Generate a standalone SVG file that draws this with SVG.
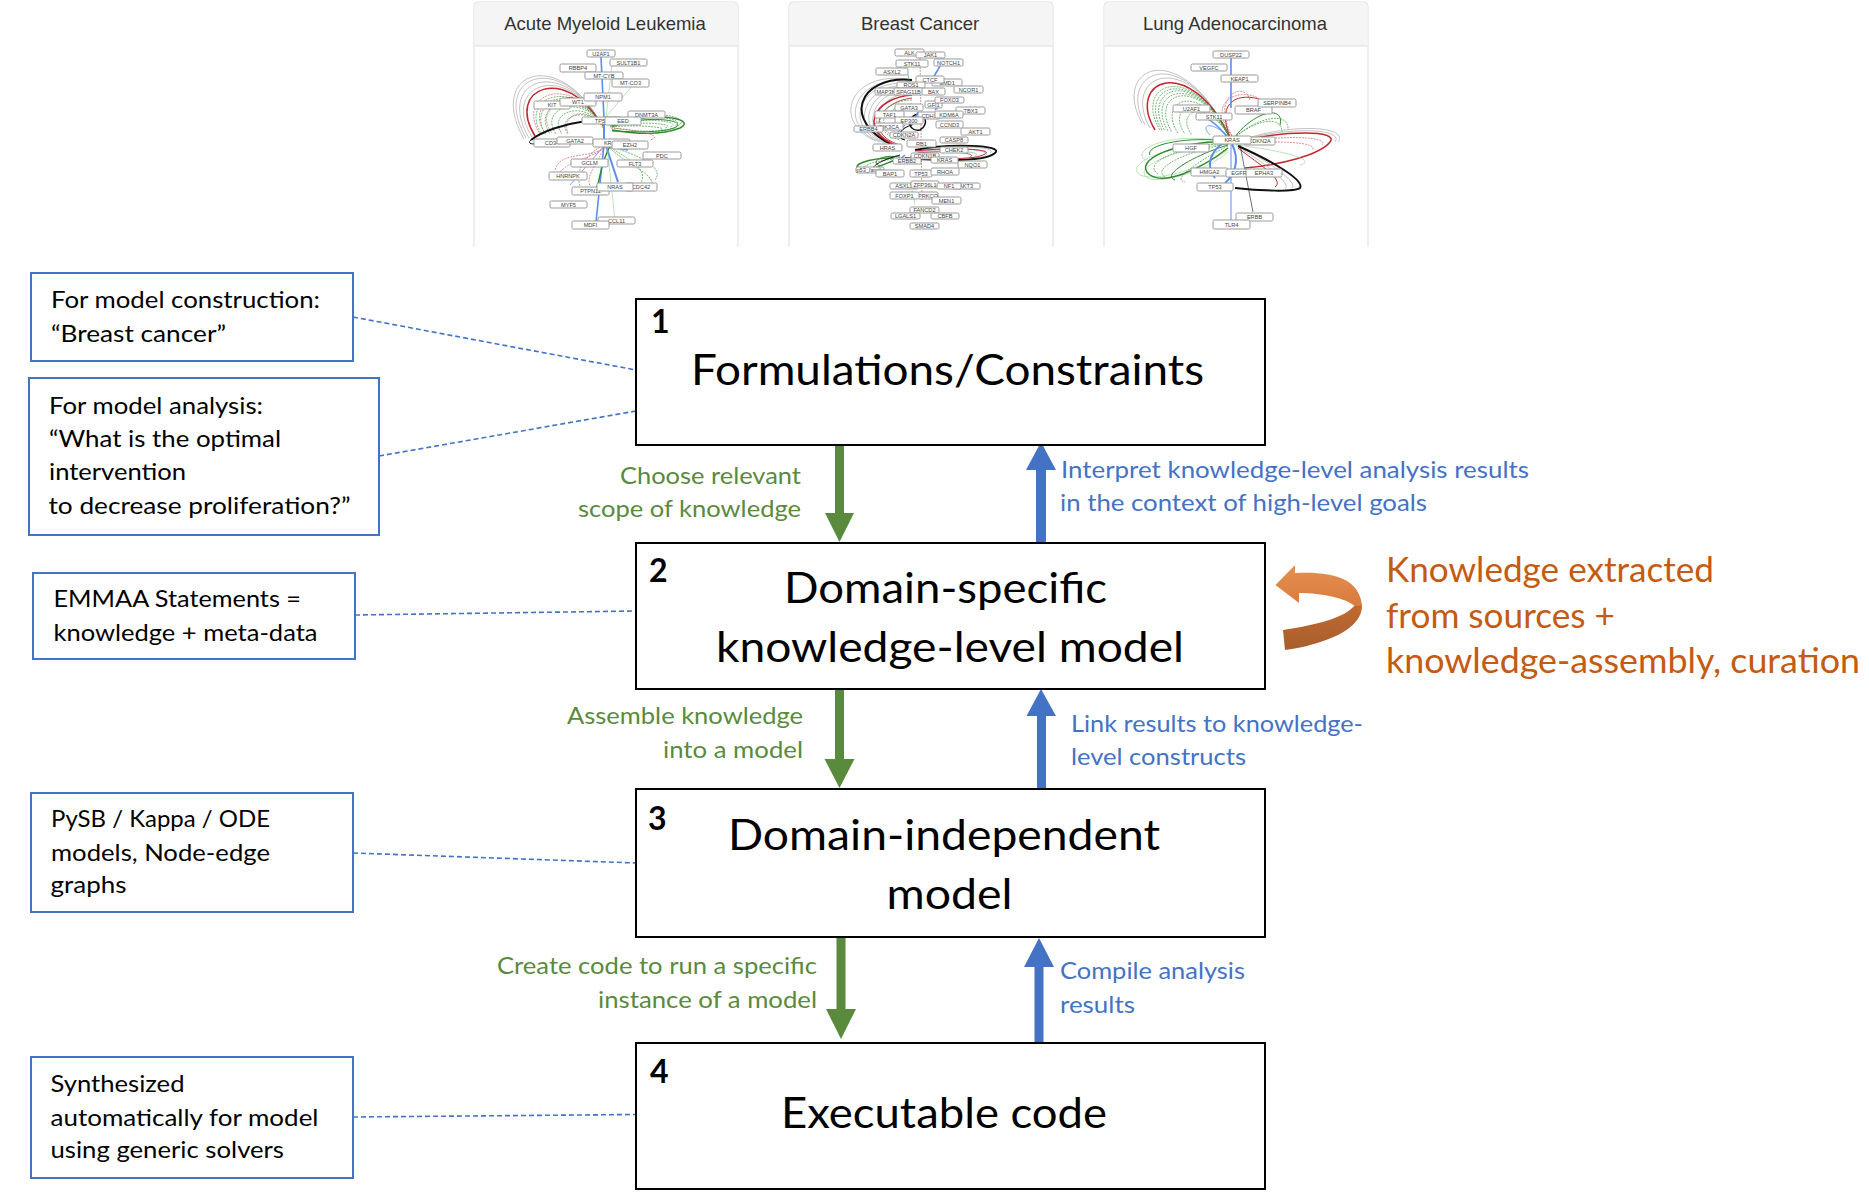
<svg xmlns="http://www.w3.org/2000/svg" width="1869" height="1203" viewBox="0 0 1869 1203">
<defs>
<style>
.t{font-family:Lato,"Open Sans","Liberation Sans",sans-serif}
.main{font-size:42px;fill:#000}
.num{font-size:32px;font-weight:bold;fill:#000}
.side{font-size:23.5px;fill:#000}
.gl{font-size:22.5px;fill:#5A8A3C}
.bl{font-size:22.5px;fill:#4472C4}
.ol{font-size:34.5px;fill:#C55A11}
.nb{fill:#fff;stroke:#000;stroke-width:2}
.sb{fill:#fff;stroke:#4472C4;stroke-width:2}
.dash{stroke:#4472C4;stroke-width:1.6;stroke-dasharray:5 3;fill:none}
.ga{fill:#5A8A3C}
.ba{fill:#4472C4}
.panel{fill:#fff;stroke:#ddd;stroke-width:1}
.phead{fill:#f5f5f5}
.ptitle{font-family:"Liberation Sans",Arial,sans-serif;font-size:18.5px;fill:#333;text-anchor:middle}
.nn rect{fill:#fff;stroke:#999;stroke-width:1}
.nn text{font-family:"Liberation Sans",Arial,sans-serif;font-size:5.6px;fill:#444;text-anchor:middle}
.e path{fill:none}
.gr{stroke:#a8a8a8;stroke-width:.7}
.rd{stroke:#c0282d;stroke-width:1.5}
.rt{stroke:#d0606a;stroke-width:.7;stroke-dasharray:2 1}
.gn{stroke:#3c9a3c;stroke-width:.7;stroke-dasharray:2 1}
.gs{stroke:#2f8a2f;stroke-width:1.5}
.bk{stroke:#111;stroke-width:2}
.bu{stroke:#5b8def;stroke-width:1.6}
.lg{stroke:#8fcf8f;stroke-width:.6}
</style>
<linearGradient id="og1" x1="0" y1="0" x2="0" y2="1"><stop offset="0" stop-color="#E48F52"/><stop offset="1" stop-color="#D97B3C"/></linearGradient>
<linearGradient id="og2" x1="0" y1="0" x2="0" y2="1"><stop offset="0" stop-color="#C06A32"/><stop offset="1" stop-color="#A95E2C"/></linearGradient>
</defs>
<rect width="1869" height="1203" fill="#fff"/>

<!-- Panel 1: AML -->
<g id="panel-aml">
<path class="panel" d="M474,247 V6 Q474,2 478,2 H734 Q738,2 738,6 V247"/>
<path class="phead" d="M474.5,46 V6 Q474.5,2.5 478,2.5 H734 Q737.5,2.5 737.5,6 V46 Z"/>
<line x1="474.5" y1="46" x2="737.5" y2="46" stroke="#ddd"/>
<text class="ptitle" x="605" y="30">Acute Myeloid Leukemia</text>
<g class="e">
<path class="gr" d="M600,122 C558,46 486,72 524,139"/>
<path class="gr" d="M600,122 C560,50 490,75 526,138"/>
<path class="gr" d="M600,122 C562,55 495,80 529,138"/>
<path class="gr" d="M600,122 C565,60 500,85 532,137"/>
<path class="rd" d="M600,123 C566,64 505,88 535,136"/>
<path class="rt" d="M601,124 C570,72 515,95 540,134"/>
<path class="rt" d="M602,125 C575,80 522,100 545,133"/>
<path class="rt" d="M603,126 C580,88 530,104 552,133"/>
<path class="gn" d="M602,124 C572,76 518,98 542,135"/>
<path class="gn" d="M603,125 C576,82 524,101 546,135"/>
<path class="gn" d="M603,126 C578,86 530,104 550,134"/>
<path class="gn" d="M604,127 C582,92 538,108 556,134"/>
<path class="gn" d="M604,128 C586,98 546,112 562,134"/>
<path class="gn" d="M605,129 C590,104 554,116 568,134"/>
<path class="rt" d="M603,128 C590,105 560,112 568,133"/>
<path class="rd" style="stroke-width:.9" d="M598,120 C585,96 560,92 565,104"/>
<path class="bk" d="M586,121 C565,124 542,131 531,140"/>
<path class="bk" style="stroke-width:1" d="M531,140 C526,144 534,146 546,141"/>
<path class="gn" d="M610,124 C640,108 695,115 678,126 C668,133 635,132 614,128"/>
<path class="gn" d="M610,125 C640,112 690,118 675,126"/>
<path class="gn" d="M610,126 C638,116 685,121 670,127"/>
<path class="gn" d="M610,127 C635,120 680,124 665,128"/>
<path class="gn" d="M612,127 C640,124 672,128 660,130"/>
<path class="gs" d="M612,126 C645,110 700,118 680,128 C660,136 635,134 612,130"/>
<path class="gs" style="stroke-width:1" d="M612,127 C642,114 692,120 674,128 C660,133 636,132 612,131"/>
<path class="rt" d="M611,128 C640,130 665,136 650,140"/>
<path class="lg" d="M606,118 L612,64"/>
<path class="lg" d="M605,118 L632,86"/>
<path class="bu" d="M601,57 L604,118"/>
<path class="bu" style="stroke-width:2" d="M604,122 L604,145"/>
<path class="bu" d="M604,145 L596,222"/>
<path class="bu" style="stroke-width:2" d="M606,146 L618,182"/>
<path class="bu" d="M607,146 L628,150"/>
<path class="bu" style="stroke-width:.8" d="M604,146 L570,185"/>
<path class="rt" d="M605,144 C585,155 575,170 580,186"/>
<path class="rt" d="M605,145 C600,160 585,175 590,186"/>
<path class="rt" d="M606,146 C595,158 570,160 560,172"/>
<path class="rt" d="M606,146 C592,160 560,150 555,170"/>
<path class="gn" d="M608,146 C630,160 650,170 640,184"/>
<path class="gn" d="M608,146 C625,165 660,175 650,187"/>
<path class="gn" d="M608,146 C640,155 665,168 655,180"/>
<path class="gs" d="M610,146 C600,165 600,180 597,187"/>
<path class="lg" d="M607,146 L615,220"/>
</g>
<g class="nn">
<rect x="587" y="50" width="28" height="7" rx="1.5"/><text x="601" y="55.5">U2AF1</text>
<rect x="610" y="59" width="37" height="7" rx="1.5"/><text x="628.5" y="64.5">SULT1B1</text>
<rect x="560" y="64" width="36" height="8" rx="1.5"/><text x="578" y="70">RBBP4</text>
<rect x="585" y="72" width="38" height="7" rx="1.5"/><text x="604" y="77.5">MT-CYB</text>
<rect x="612" y="79" width="37" height="8" rx="1.5"/><text x="630.5" y="85">MT-CO3</text>
<rect x="534" y="101" width="36" height="8" rx="1.5"/><text x="552" y="107">KIT</text>
<rect x="560" y="98" width="36" height="8" rx="1.5"/><text x="578" y="104">WT1</text>
<rect x="584" y="93" width="38" height="8" rx="1.5"/><text x="603" y="99">NPM1</text>
<rect x="628" y="111" width="37" height="7" rx="1.5"/><text x="646.5" y="116.5">DNMT3A</text>
<rect x="582" y="117" width="39" height="7" rx="1.5"/><text x="601.5" y="122.5">TP53</text>
<rect x="605" y="117" width="36" height="8" rx="1.5"/><text x="623" y="123">EED</text>
<rect x="534" y="139" width="36" height="8" rx="1.5"/><text x="552" y="145">CD34</text>
<rect x="557" y="137" width="36" height="7" rx="1.5"/><text x="575" y="142.5">GATA2</text>
<rect x="593" y="139" width="37" height="8" rx="1.5"/><text x="611.5" y="145">KRAS</text>
<rect x="612" y="141" width="36" height="8" rx="1.5"/><text x="630" y="147">EZH2</text>
<rect x="643" y="152" width="38" height="7" rx="1.5"/><text x="662" y="157.5">PDC</text>
<rect x="571" y="159" width="37" height="8" rx="1.5"/><text x="589.5" y="165">GCLM</text>
<rect x="617" y="160" width="36" height="7" rx="1.5"/><text x="635" y="165.5">FLT3</text>
<rect x="549" y="172" width="38" height="8" rx="1.5"/><text x="568" y="178">HNRNPK</text>
<rect x="572" y="187" width="37" height="8" rx="1.5"/><text x="590.5" y="193">PTPN11</text>
<rect x="625" y="183" width="32" height="8" rx="1.5"/><text x="641" y="189">CDC42</text>
<rect x="597" y="183" width="36" height="8" rx="1.5"/><text x="615" y="189">NRAS</text>
<rect x="550" y="201" width="37" height="7" rx="1.5"/><text x="568.5" y="206.5">MYF5</text>
<rect x="598" y="217" width="37" height="7" rx="1.5"/><text x="616.5" y="222.5">CCL11</text>
<rect x="572" y="221" width="37" height="8" rx="1.5"/><text x="590.5" y="227">MDFI</text>
</g>
</g>

<!-- Panel 2: Breast -->
<g id="panel-breast">
<path class="panel" d="M789,247 V6 Q789,2 793,2 H1049 Q1053,2 1053,6 V247"/>
<path class="phead" d="M789.5,46 V6 Q789.5,2.5 793,2.5 H1049 Q1052.5,2.5 1052.5,6 V46 Z"/>
<line x1="789.5" y1="46" x2="1052.5" y2="46" stroke="#ddd"/>
<text class="ptitle" x="920" y="30">Breast Cancer</text>
<g class="e">
<path class="gr" d="M912,80 C850,68 830,122 876,141"/>
<path class="gr" d="M912,82 C855,72 835,125 880,142"/>
<path class="gr" d="M912,84 C860,76 840,128 885,143"/>
<path class="gr" d="M912,86 C864,80 845,130 890,144"/>
<path class="gr" d="M912,88 C868,84 850,132 895,145"/>
<path class="gr" d="M912,90 C872,88 855,134 898,146"/>
<path class="gr" d="M912,93 C876,93 860,135 900,146"/>
<path class="bk" d="M912,80 C858,75 840,122 895,146"/>
<path class="rd" d="M912,95 C872,98 858,132 898,146"/>
<path class="rd" style="stroke-width:.9" d="M912,98 C878,102 864,134 900,145"/>
<path class="gn" d="M912,100 C880,100 865,130 900,140"/>
<path class="gn" d="M912,104 C884,106 870,130 900,138"/>
<path class="rt" d="M920,55 L922,200"/>
<path class="bk" style="stroke-width:1.5" d="M915,115 C925,110 930,125 920,130 C910,132 905,120 915,115"/>
<path class="bk" style="stroke-width:1.2" d="M912,125 C900,128 895,138 905,140"/>
<path class="gr" d="M915,151 C955,144 1000,147 990,153"/>
<path class="gr" d="M917,152 C950,149 985,152 975,156"/>
<path class="gr" d="M917,152 C955,146 995,150 985,156 C970,160 945,160 915,158"/>
<path class="bk" style="stroke-width:1.8" d="M915,150 C950,143 1005,145 995,153 C985,162 945,161 905,158"/>
<path class="rd" style="stroke-width:1" d="M915,151 C950,147 995,149 985,154 C975,160 945,159 910,157"/>
<path class="rd" style="stroke-width:.8" d="M918,153 C945,150 980,153 970,157"/>
<path class="gs" d="M895,158 C865,158 850,166 860,170 C868,172 880,166 895,160"/>
<path class="gn" d="M895,159 C870,161 858,168 866,170"/>
<path class="gs" style="stroke-width:1" d="M900,157 C880,154 870,162 880,166"/>
<path class="bk" style="stroke-width:1" d="M900,155 C880,160 865,170 880,168"/>
<path class="lg" style="stroke:#3c9a3c" d="M905,60 L910,85"/>
<path class="lg" d="M912,190 L915,205"/>
<path class="bu" d="M940,66 L932,80"/>
<path class="bu" d="M945,100 L935,110"/>
<path class="bu" d="M905,155 L897,162"/>
<path class="bu" d="M918,112 L912,125"/>
<path class="bu" style="stroke-width:1" d="M905,125 L897,133"/>
</g>
<g class="nn" style="font-size:5px">
<rect x="895" y="49" width="29" height="7" rx="1.5"/><text x="909.5" y="54.5">ALK</text>
<rect x="916" y="52" width="29" height="6" rx="1.5"/><text x="930.5" y="57">JAK1</text>
<rect x="934" y="59" width="29" height="7" rx="1.5"/><text x="948.5" y="64.5">NOTCH1</text>
<rect x="896" y="60" width="32" height="7" rx="1.5"/><text x="912" y="65.5">STK11</text>
<rect x="876" y="68" width="32" height="7" rx="1.5"/><text x="892" y="73.5">ASXL2</text>
<rect x="932" y="79" width="30" height="7" rx="1.5"/><text x="947" y="84.5">SMD1</text>
<rect x="916" y="76" width="28" height="7" rx="1.5"/><text x="930" y="81.5">CTCF</text>
<rect x="954" y="86" width="29" height="7" rx="1.5"/><text x="968.5" y="91.5">NCOR1</text>
<rect x="897" y="82" width="28" height="6" rx="1.5"/><text x="911" y="87">ROS1</text>
<rect x="875" y="88" width="25" height="7" rx="1.5"/><text x="887.5" y="93.5">MAP3K1</text>
<rect x="894" y="88" width="29" height="7" rx="1.5"/><text x="908.5" y="93.5">SPAG11B</text>
<rect x="922" y="88" width="23" height="7" rx="1.5"/><text x="933.5" y="93.5">BAX</text>
<rect x="925" y="101" width="17" height="7" rx="1.5"/><text x="933.5" y="106.5">GFI1</text>
<rect x="935" y="97" width="29" height="6" rx="1.5"/><text x="949.5" y="102">FOXO3</text>
<rect x="895" y="104" width="28" height="7" rx="1.5"/><text x="909" y="109.5">GATA3</text>
<rect x="956" y="107" width="29" height="7" rx="1.5"/><text x="970.5" y="112.5">TBX3</text>
<rect x="875" y="111" width="29" height="7" rx="1.5"/><text x="889.5" y="116.5">TAF1</text>
<rect x="918" y="112" width="22" height="7" rx="1.5"/><text x="929" y="117.5">CDH1</text>
<rect x="935" y="111" width="28" height="7" rx="1.5"/><text x="949" y="116.5">KDM6A</text>
<rect x="895" y="117" width="28" height="7" rx="1.5"/><text x="909" y="122.5">EP300</text>
<rect x="875" y="123" width="28" height="7" rx="1.5"/><text x="889" y="128.5">PIK3CA</text>
<rect x="936" y="121" width="27" height="7" rx="1.5"/><text x="949.5" y="126.5">CCND3</text>
<rect x="854" y="126" width="29" height="6" rx="1.5"/><text x="868.5" y="131">ERBB4</text>
<rect x="961" y="128" width="29" height="7" rx="1.5"/><text x="975.5" y="133.5">AKT1</text>
<rect x="890" y="132" width="28" height="6" rx="1.5"/><text x="904" y="137">CDKN2A</text>
<rect x="940" y="137" width="28" height="6" rx="1.5"/><text x="954" y="142">CASP8</text>
<rect x="907" y="140" width="29" height="7" rx="1.5"/><text x="921.5" y="145.5">RB1</text>
<rect x="873" y="144" width="29" height="7" rx="1.5"/><text x="887.5" y="149.5">HRAS</text>
<rect x="940" y="147" width="28" height="6" rx="1.5"/><text x="954" y="152">CHEK2</text>
<rect x="911" y="153" width="28" height="6" rx="1.5"/><text x="925" y="158">CDKN1B</text>
<rect x="893" y="158" width="28" height="6" rx="1.5"/><text x="907" y="163">ERBB2</text>
<rect x="931" y="157" width="27" height="6" rx="1.5"/><text x="944.5" y="162">KRAS</text>
<rect x="958" y="161" width="29" height="7" rx="1.5"/><text x="972.5" y="166.5">NQO1</text>
<rect x="856" y="167" width="28" height="6" rx="1.5"/><text x="870" y="172">p53_family</text>
<rect x="876" y="170" width="28" height="7" rx="1.5"/><text x="890" y="175.5">BAP1</text>
<rect x="910" y="170" width="22" height="7" rx="1.5"/><text x="921" y="175.5">TP53</text>
<rect x="931" y="168" width="28" height="7" rx="1.5"/><text x="945" y="173.5">RHOA</text>
<rect x="890" y="183" width="28" height="6" rx="1.5"/><text x="904" y="188">ASXL1</text>
<rect x="952" y="183" width="28" height="6" rx="1.5"/><text x="966" y="188">AKT3</text>
<rect x="911" y="181" width="28" height="7" rx="1.5"/><text x="925" y="186.5">ZFP36L1</text>
<rect x="937" y="183" width="24" height="6" rx="1.5"/><text x="949" y="188">NF1</text>
<rect x="918" y="192" width="20" height="7" rx="1.5"/><text x="928" y="197.5">PRKCQ</text>
<rect x="890" y="192" width="29" height="7" rx="1.5"/><text x="904.5" y="197.5">FOXP1</text>
<rect x="932" y="197" width="29" height="7" rx="1.5"/><text x="946.5" y="202.5">MEN1</text>
<rect x="910" y="207" width="29" height="6" rx="1.5"/><text x="924.5" y="212">FANCD2</text>
<rect x="891" y="213" width="29" height="6" rx="1.5"/><text x="905.5" y="218">LGALS1</text>
<rect x="931" y="213" width="28" height="6" rx="1.5"/><text x="945" y="218">CBFB</text>
<rect x="910" y="223" width="29" height="6" rx="1.5"/><text x="924.5" y="228">SMAD4</text>
</g>
</g>

<!-- Panel 3: Lung -->
<g id="panel-lung">
<path class="panel" d="M1104,247 V6 Q1104,2 1108,2 H1364 Q1368,2 1368,6 V247"/>
<path class="phead" d="M1104.5,46 V6 Q1104.5,2.5 1108,2.5 H1364 Q1367.5,2.5 1367.5,6 V46 Z"/>
<line x1="1104.5" y1="46" x2="1367.5" y2="46" stroke="#ddd"/>
<text class="ptitle" x="1235" y="30">Lung Adenocarcinoma</text>
<g class="e">
<path class="gr" d="M1230,138 C1182,35 1110,66 1142,123"/>
<path class="gr" d="M1230,138 C1185,40 1115,70 1145,125"/>
<path class="gr" d="M1230,138 C1188,45 1120,75 1150,128"/>
<path class="rd" d="M1230,138 C1190,52 1125,80 1155,130"/>
<path class="gn" d="M1230,138 C1192,58 1132,84 1160,130"/>
<path class="gn" d="M1230,138 C1194,62 1136,86 1162,130"/>
<path class="gn" d="M1230,138 C1195,65 1140,88 1165,131"/>
<path class="gn" d="M1230,138 C1197,69 1144,91 1168,131"/>
<path class="gn" d="M1230,138 C1198,72 1148,94 1172,132"/>
<path class="gn" d="M1230,138 C1200,80 1156,100 1178,133"/>
<path class="gn" d="M1230,138 C1203,88 1165,106 1185,134"/>
<path class="gn" d="M1230,138 C1206,95 1174,112 1192,135"/>
<path class="rt" d="M1232,136 C1210,95 1245,80 1250,100"/>
<path class="rt" d="M1232,136 C1205,100 1240,88 1258,98"/>
<path class="rd" style="stroke-width:1" d="M1230,137 C1215,100 1240,92 1262,100"/>
<path class="gs" style="stroke-width:1" d="M1234,138 C1255,110 1285,105 1280,125"/>
<path class="gn" d="M1234,138 C1260,115 1290,112 1288,130"/>
<path class="gn" d="M1234,138 C1258,118 1282,116 1282,132"/>
<path class="lg" d="M1228,142 C1170,130 1130,150 1145,160"/>
<path class="lg" d="M1228,143 C1160,145 1125,165 1140,175 C1155,182 1200,170 1228,150"/>
<path class="lg" d="M1228,144 C1165,150 1132,170 1148,178 C1160,184 1205,172 1228,152"/>
<path class="gs" d="M1228,142 C1180,140 1130,160 1150,175 C1165,185 1200,170 1228,148"/>
<path class="gs" style="stroke-width:1" d="M1228,141 C1185,136 1145,145 1150,155"/>
<path class="gn" d="M1228,143 C1185,145 1140,162 1158,174"/>
<path class="gn" d="M1228,144 C1190,150 1150,168 1165,177"/>
<path class="gs" style="stroke-width:1" d="M1228,145 C1195,155 1160,175 1175,180"/>
<path class="gn" d="M1228,146 C1200,160 1170,180 1185,182"/>
<path class="gr" d="M1236,142 C1290,122 1350,126 1338,142"/>
<path class="gr" d="M1236,142 C1285,126 1345,128 1335,142"/>
<path class="rd" d="M1236,142 C1285,130 1340,130 1330,142 C1320,155 1280,165 1245,168"/>
<path class="rt" d="M1236,143 C1280,135 1330,136 1322,145"/>
<path class="rt" d="M1236,144 C1275,140 1320,142 1312,150"/>
<path class="lg" d="M1236,145 C1280,150 1320,160 1300,165"/>
<path class="gr" d="M1238,146 C1270,162 1298,182 1292,188"/>
<path class="gr" d="M1238,147 C1268,165 1292,184 1285,189"/>
<path class="bk" d="M1238,146 C1270,160 1305,180 1300,188 C1295,192 1260,191 1235,188"/>
<path class="rd" style="stroke-width:1" d="M1238,148 C1260,165 1285,180 1275,187"/>
<path class="bu" d="M1231,58 L1231,108"/>
<path class="bu" style="stroke-width:1" d="M1231,145 L1231,222"/>
<path class="bu" style="stroke-width:2" d="M1228,140 C1210,150 1205,165 1215,178"/>
<path class="bu" style="stroke-width:1.5" d="M1228,138 C1215,122 1205,115 1198,118"/>
<path class="bu" style="stroke-width:2" d="M1232,144 C1240,160 1235,175 1225,183"/>
<path class="bu" style="stroke-width:.8" d="M1228,136 C1210,120 1200,125 1210,135"/>
<path class="bk" style="stroke-width:.6" d="M1240,145 L1253,212"/>
</g>
<g class="nn">
<rect x="1213" y="51" width="36" height="7" rx="1.5"/><text x="1231" y="56.5">DUSP22</text>
<rect x="1191" y="64" width="36" height="7" rx="1.5"/><text x="1209" y="69.5">VEGFC</text>
<rect x="1221" y="75" width="37" height="7" rx="1.5"/><text x="1239.5" y="80.5">KEAP1</text>
<rect x="1235" y="106" width="37" height="8" rx="1.5"/><text x="1253.5" y="112">BRAF</text>
<rect x="1258" y="99" width="38" height="8" rx="1.5"/><text x="1277" y="105">SERPINB4</text>
<rect x="1173" y="105" width="37" height="7" rx="1.5"/><text x="1191.5" y="110.5">U2AF1</text>
<rect x="1196" y="113" width="36" height="7" rx="1.5"/><text x="1214" y="118.5">STK11</text>
<rect x="1244" y="137" width="31" height="8" rx="1.5"/><text x="1259.5" y="143">CDKN2A</text>
<rect x="1213" y="136" width="38" height="8" rx="1.5"/><text x="1232" y="142">KRAS</text>
<rect x="1173" y="144" width="36" height="8" rx="1.5"/><text x="1191" y="150">HGF</text>
<rect x="1191" y="168" width="37" height="8" rx="1.5"/><text x="1209.5" y="174">HMGA2</text>
<rect x="1226" y="169" width="22" height="8" rx="1.5"/><text x="1239" y="175">EGFR</text>
<rect x="1246" y="169" width="36" height="8" rx="1.5"/><text x="1264" y="175">EPHA3</text>
<rect x="1197" y="183" width="36" height="8" rx="1.5"/><text x="1215" y="189">TP53</text>
<rect x="1236" y="213" width="37" height="8" rx="1.5"/><text x="1254.5" y="219">ERBB</text>
<rect x="1213" y="220" width="37" height="9" rx="1.5"/><text x="1231.5" y="226.5">TLR4</text>
</g>
</g>

<!-- Connectors -->
<g id="connectors">
<line class="dash" x1="353" y1="317" x2="636" y2="370"/>
<line class="dash" x1="379" y1="456" x2="636" y2="411"/>
<line class="dash" x1="355" y1="615" x2="636" y2="611"/>
<line class="dash" x1="353" y1="853" x2="636" y2="863"/>
<line class="dash" x1="353" y1="1117" x2="636" y2="1114.5"/>
<polygon class="ga" points="835,446 844,446 844,513 854,513 839.5,542 825,513 835,513"/>
<polygon class="ba" points="1036,543 1046,543 1046,470 1056,470 1041,442 1026,470 1036,470"/>
<polygon class="ga" points="835,690 844,690 844,759 854.5,759 839.5,788 824.5,759 835,759"/>
<polygon class="ba" points="1037,789 1046,789 1046,716 1056,716 1041,689 1026.5,716 1037,716"/>
<polygon class="ga" points="836.5,938 845.5,938 845.5,1009 856,1009 841,1039 826,1009 836.5,1009"/>
<polygon class="ba" points="1034.5,1043 1043.5,1043 1043.5,967 1054,967 1039,938 1024,967 1034.5,967"/>
<g class="t">
<text class="gl" x="620" y="484" textLength="181" lengthAdjust="spacingAndGlyphs">Choose relevant</text>
<text class="gl" x="578" y="517" textLength="223" lengthAdjust="spacingAndGlyphs">scope of knowledge</text>
<text class="bl" x="1061" y="478" textLength="468" lengthAdjust="spacingAndGlyphs">Interpret knowledge-level analysis results</text>
<text class="bl" x="1060" y="511" textLength="367" lengthAdjust="spacingAndGlyphs">in the context of high-level goals</text>
<text class="gl" x="567" y="724" textLength="236" lengthAdjust="spacingAndGlyphs">Assemble knowledge</text>
<text class="gl" x="663" y="758" textLength="140" lengthAdjust="spacingAndGlyphs">into a model</text>
<text class="bl" x="1071" y="732" textLength="292" lengthAdjust="spacingAndGlyphs">Link results to knowledge-</text>
<text class="bl" x="1071" y="765" textLength="175" lengthAdjust="spacingAndGlyphs">level constructs</text>
<text class="gl" x="497" y="974" textLength="320" lengthAdjust="spacingAndGlyphs">Create code to run a specific</text>
<text class="gl" x="598" y="1008" textLength="219" lengthAdjust="spacingAndGlyphs">instance of a model</text>
<text class="bl" x="1060" y="979" textLength="185" lengthAdjust="spacingAndGlyphs">Compile analysis</text>
<text class="bl" x="1060" y="1013" textLength="75" lengthAdjust="spacingAndGlyphs">results</text>
</g>
</g>

<!-- Main nodes -->
<g id="node1" class="t">
<rect class="nb" x="636" y="299" width="629" height="146"/>
<text class="num" x="651" y="333">1</text>
<text class="main" x="691" y="385" textLength="513" lengthAdjust="spacingAndGlyphs">Formulations/Constraints</text>
</g>
<g id="node2" class="t">
<rect class="nb" x="636" y="543" width="629" height="146"/>
<text class="num" x="649" y="582">2</text>
<text class="main" x="784" y="603" textLength="323" lengthAdjust="spacingAndGlyphs">Domain-specific</text>
<text class="main" x="716" y="662" textLength="468" lengthAdjust="spacingAndGlyphs">knowledge-level model</text>
</g>
<g id="node3" class="t">
<rect class="nb" x="636" y="789" width="629" height="148"/>
<text class="num" x="648" y="830">3</text>
<text class="main" x="728" y="850" textLength="432" lengthAdjust="spacingAndGlyphs">Domain-independent</text>
<text class="main" x="886.5" y="909" textLength="126" lengthAdjust="spacingAndGlyphs">model</text>
</g>
<g id="node4" class="t">
<rect class="nb" x="636" y="1043" width="629" height="146"/>
<text class="num" x="650" y="1083">4</text>
<text class="main" x="781" y="1128" textLength="326" lengthAdjust="spacingAndGlyphs">Executable code</text>
</g>

<!-- Side notes -->
<g id="note-construction" class="t">
<rect class="sb" x="31" y="273" width="322" height="88"/>
<text class="side" x="51" y="308" textLength="269" lengthAdjust="spacingAndGlyphs">For model construction:</text>
<text class="side" x="51" y="342" textLength="175" lengthAdjust="spacingAndGlyphs">“Breast cancer”</text>
</g>
<g id="note-analysis" class="t">
<rect class="sb" x="29" y="378" width="350" height="157"/>
<text class="side" x="49" y="414" textLength="214" lengthAdjust="spacingAndGlyphs">For model analysis:</text>
<text class="side" x="49" y="447" textLength="232" lengthAdjust="spacingAndGlyphs">“What is the optimal</text>
<text class="side" x="49" y="480" textLength="137" lengthAdjust="spacingAndGlyphs">intervention</text>
<text class="side" x="48.5" y="514" textLength="302" lengthAdjust="spacingAndGlyphs">to decrease proliferation?”</text>
</g>
<g id="note-emmaa" class="t">
<rect class="sb" x="33" y="573" width="322" height="86"/>
<text class="side" x="53.5" y="607" textLength="247.5" lengthAdjust="spacingAndGlyphs">EMMAA Statements =</text>
<text class="side" x="53.5" y="641" textLength="264" lengthAdjust="spacingAndGlyphs">knowledge + meta-data</text>
</g>
<g id="note-pysb" class="t">
<rect class="sb" x="31" y="793" width="322" height="119"/>
<text class="side" x="51" y="827" textLength="219" lengthAdjust="spacingAndGlyphs">PySB / Kappa / ODE</text>
<text class="side" x="51" y="861" textLength="219" lengthAdjust="spacingAndGlyphs">models, Node-edge</text>
<text class="side" x="50.5" y="893" textLength="76" lengthAdjust="spacingAndGlyphs">graphs</text>
</g>
<g id="note-synth" class="t">
<rect class="sb" x="31" y="1057" width="322" height="121"/>
<text class="side" x="50.5" y="1091.5" textLength="134" lengthAdjust="spacingAndGlyphs">Synthesized</text>
<text class="side" x="50.5" y="1125.5" textLength="268" lengthAdjust="spacingAndGlyphs">automatically for model</text>
<text class="side" x="50.5" y="1158" textLength="233.5" lengthAdjust="spacingAndGlyphs">using generic solvers</text>
</g>

<!-- Knowledge extraction -->
<g id="knowledge-source" class="t">
<path fill="url(#og2)" d="M1362,604 C1364,630 1322,645 1285,650 L1283,630 C1316,625 1345,618 1355,605 Z"/>
<path fill="url(#og1)" d="M1295,573 C1332,571 1360,578 1362,606 L1355,606 C1345,598 1322,593 1299,593 L1299,603 L1275.5,585 L1295,565 Z"/>
<text class="ol" x="1386" y="582" textLength="328" lengthAdjust="spacingAndGlyphs">Knowledge extracted</text>
<text class="ol" x="1386" y="628" textLength="229" lengthAdjust="spacingAndGlyphs">from sources +</text>
<text class="ol" x="1386" y="673" textLength="474" lengthAdjust="spacingAndGlyphs">knowledge-assembly, curation</text>
</g>
</svg>
